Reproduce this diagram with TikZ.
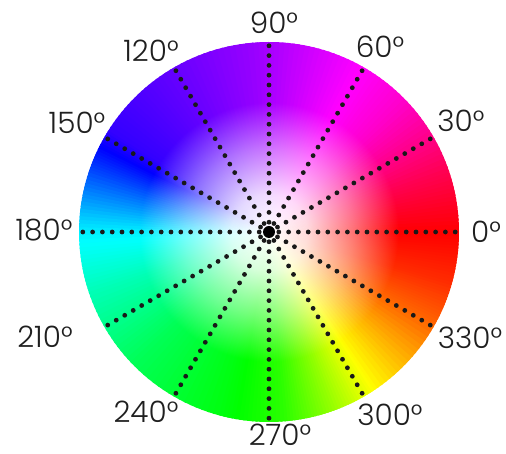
\documentclass[tikz,border=0pt]{standalone}
\usepackage{fontspec}
\setmainfont{Poppins}[UprightFont=* Light]
\usetikzlibrary{fadings}
\pgfdeclareradialshading{wfshade}{\pgfpointorigin}{color(0bp)=(transparent!0); color(5bp)=(transparent!15); color(11bp)=(transparent!55); color(17bp)=(transparent!100); color(50bp)=(transparent!100)}
\pgfdeclarefading{whitefade}{\pgfuseshading{wfshade}}
\tikzset{
  lbl/.style={font=\fontsize{29.5}{30}\selectfont, inner sep=0pt, text=black!88},
  dotline/.style={line width=4.8pt, line cap=round, dash pattern=on 0pt off 9.8pt, black!90}
}
\begin{document}
\begin{tikzpicture}[x=1pt,y=1pt]
\useasboundingbox (0,0) rectangle (506,454);
\fill[white] (0,0) rectangle (506,454);
\coordinate (C) at (269,222);
\def\R{190}
\foreach \aa/\ha/\ab/\hb in {0/360/20/340, 20/340/45/312, 45/312/70/294, 70/294/95/276, 95/276/125/262, 125/262/148/252, 148/252/162/222, 162/222/180/184, 180/184/200/162, 200/162/225/140, 225/140/255/124, 255/124/275/110, 275/110/290/85, 290/85/305/58, 305/58/330/25, 330/25/345/10, 345/10/360/0} {
  \foreach \i in {0,...,15} {
    \pgfmathsetmacro\angA{\aa+(\ab-\aa)*\i/16 - 0.3}
    \pgfmathsetmacro\angB{\aa+(\ab-\aa)*(\i+1)/16 + 0.3}
    \pgfmathsetmacro\hue{mod(\ha+(\hb-\ha)*(\i+0.5)/16,360)/360}
    \definecolor{hc}{hsb}{\hue,1,1}
    \fill[hc] (C) -- ++(\angA:\R) arc[start angle=\angA, end angle=\angB, radius=\R] -- cycle;
  }
}
\fill[white, path fading=whitefade] (C) circle (\R);
\foreach \a in {0,30,...,330} {
  \path (C) ++(\a:\R) coordinate (r\a);
  \draw[dotline] (C) -- (r\a);
}
\node[circle, fill=black, inner sep=0pt, minimum size=12pt] (ctr) at (C) {};
\node[lbl] (l0) at (486,222) {0°};
\node[lbl] (l30) at (461,333) {30°};
\node[lbl] (l60) at (380,407) {60°};
\node[lbl] (l90) at (274,431) {90°};
\node[lbl] (l120) at (151,403) {120°};
\node[lbl] (l150) at (77,331) {150°};
\node[lbl] (l180) at (44,224) {180°};
\node[lbl] (l210) at (45,117) {210°};
\node[lbl] (l240) at (146,42) {240°};
\node[lbl] (l270) at (280,19) {270°};
\node[lbl] (l300) at (390,39) {300°};
\node[lbl] (l330) at (470,116) {330°};
\end{tikzpicture}
\end{document}
